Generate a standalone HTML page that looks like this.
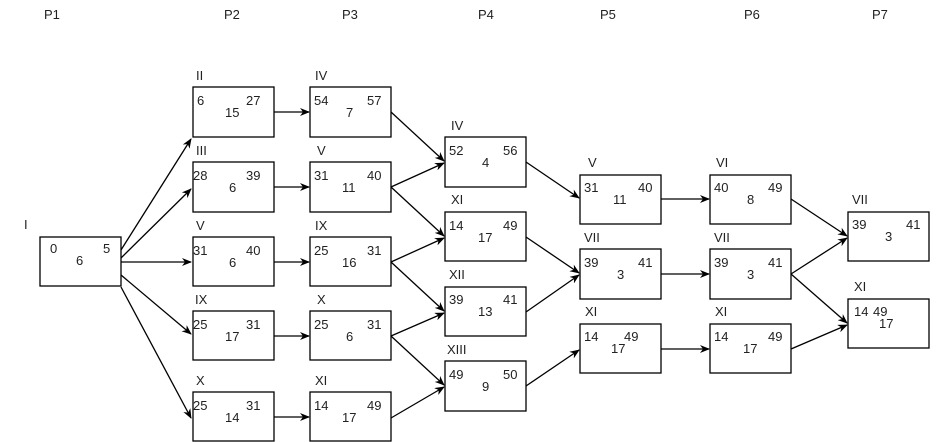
<!DOCTYPE html>
<html><head><meta charset="utf-8"><style>
html,body{margin:0;padding:0;background:#fff;}
svg{display:block;}
text{font-family:"Liberation Sans",sans-serif;font-size:13px;fill:#222;}
</style></head><body>
<svg width="945" height="442" viewBox="0 0 945 442" xmlns="http://www.w3.org/2000/svg">
<defs><marker id="a" markerWidth="10" markerHeight="8" refX="9" refY="4" orient="auto" markerUnits="userSpaceOnUse"><path d="M0,0 L10,4 L0,8 L3,4 z" fill="#000"/></marker></defs>
<g>
<text x="44" y="19">P1</text><text x="224" y="19">P2</text><text x="342" y="19">P3</text><text x="478" y="19">P4</text><text x="600" y="19">P5</text><text x="744" y="19">P6</text><text x="872" y="19">P7</text>
</g>
<g id="boxes"></g>
<g stroke="#000" stroke-width="1.3" fill="none" marker-end="url(#a)">
<line x1="121" y1="250" x2="191" y2="139"/>
<line x1="121" y1="258" x2="191" y2="189"/>
<line x1="121" y1="262" x2="191" y2="262"/>
<line x1="121" y1="275" x2="191" y2="334"/>
<line x1="121" y1="287" x2="191" y2="418"/>
<line x1="274" y1="112" x2="309" y2="112"/>
<line x1="274" y1="187" x2="309" y2="187"/>
<line x1="274" y1="262" x2="309" y2="262"/>
<line x1="274" y1="336" x2="309" y2="336"/>
<line x1="274" y1="417" x2="309" y2="417"/>
<line x1="391" y1="112" x2="444" y2="161"/>
<line x1="391" y1="187" x2="444" y2="163"/>
<line x1="391" y1="187" x2="444" y2="236"/>
<line x1="391" y1="262" x2="444" y2="238"/>
<line x1="391" y1="262" x2="444" y2="311"/>
<line x1="391" y1="336" x2="444" y2="313"/>
<line x1="391" y1="336" x2="444" y2="385"/>
<line x1="391" y1="418" x2="444" y2="387"/>
<line x1="526" y1="162" x2="579" y2="198"/>
<line x1="526" y1="237" x2="579" y2="273"/>
<line x1="526" y1="312" x2="579" y2="275"/>
<line x1="526" y1="386" x2="579" y2="350"/>
<line x1="661" y1="199" x2="709" y2="199"/>
<line x1="661" y1="274" x2="709" y2="274"/>
<line x1="661" y1="349" x2="709" y2="349"/>
<line x1="791" y1="199" x2="847" y2="236"/>
<line x1="791" y1="274" x2="847" y2="238"/>
<line x1="791" y1="274" x2="847" y2="323"/>
<line x1="791" y1="349" x2="847" y2="325"/>
</g>
<g fill="#fff" stroke="#000" stroke-width="1.3">
<rect x="40" y="237" width="81" height="49"/>
<rect x="193" y="87" width="81" height="50"/><rect x="193" y="162" width="81" height="50"/><rect x="193" y="237" width="81" height="49"/><rect x="193" y="311" width="81" height="49"/><rect x="193" y="392" width="81" height="49"/>
<rect x="310" y="87" width="81" height="50"/><rect x="310" y="162" width="81" height="50"/><rect x="310" y="237" width="81" height="49"/><rect x="310" y="311" width="81" height="49"/><rect x="310" y="392" width="81" height="49"/>
<rect x="445" y="137" width="81" height="50"/><rect x="445" y="212" width="81" height="49"/><rect x="445" y="287" width="81" height="49"/><rect x="445" y="361" width="81" height="50"/>
<rect x="580" y="175" width="81" height="49"/><rect x="580" y="249" width="81" height="50"/><rect x="580" y="324" width="81" height="49"/>
<rect x="710" y="175" width="81" height="49"/><rect x="710" y="249" width="81" height="50"/><rect x="710" y="324" width="81" height="49"/>
<rect x="848" y="212" width="81" height="49"/><rect x="848" y="299" width="81" height="49"/>
</g>
<g>
<!-- I -->
<text x="24" y="229">I</text><text x="50" y="253">0</text><text x="103" y="253">5</text><text x="76" y="265">6</text>
<!-- P2 -->
<text x="196" y="80">II</text><text x="197" y="105">6</text><text x="246" y="105">27</text><text x="225" y="117">15</text>
<text x="196" y="155">III</text><text x="193" y="180">28</text><text x="246" y="180">39</text><text x="229" y="192">6</text>
<text x="196" y="230">V</text><text x="193" y="255">31</text><text x="246" y="255">40</text><text x="229" y="267">6</text>
<text x="195" y="304">IX</text><text x="193" y="329">25</text><text x="246" y="329">31</text><text x="225" y="341">17</text>
<text x="196" y="385">X</text><text x="193" y="410">25</text><text x="246" y="410">31</text><text x="225" y="422">14</text>
<!-- P3 -->
<text x="315" y="80">IV</text><text x="314" y="105">54</text><text x="367" y="105">57</text><text x="346" y="117">7</text>
<text x="317" y="155">V</text><text x="314" y="180">31</text><text x="367" y="180">40</text><text x="342" y="192">11</text>
<text x="315" y="230">IX</text><text x="314" y="255">25</text><text x="367" y="255">31</text><text x="342" y="267">16</text>
<text x="317" y="304">X</text><text x="314" y="329">25</text><text x="367" y="329">31</text><text x="346" y="341">6</text>
<text x="315" y="385">XI</text><text x="314" y="410">14</text><text x="367" y="410">49</text><text x="342" y="422">17</text>
<!-- P4 -->
<text x="451" y="130">IV</text><text x="449" y="155">52</text><text x="503" y="155">56</text><text x="482" y="167">4</text>
<text x="451" y="204">XI</text><text x="449" y="230">14</text><text x="503" y="230">49</text><text x="478" y="242">17</text>
<text x="449" y="279">XII</text><text x="449" y="304">39</text><text x="503" y="304">41</text><text x="478" y="316">13</text>
<text x="447" y="354">XIII</text><text x="449" y="379">49</text><text x="503" y="379">50</text><text x="482" y="391">9</text>
<!-- P5 -->
<text x="588" y="167">V</text><text x="584" y="192">31</text><text x="638" y="192">40</text><text x="613" y="204">11</text>
<text x="584" y="242">VII</text><text x="584" y="267">39</text><text x="638" y="267">41</text><text x="617" y="279">3</text>
<text x="585" y="316">XI</text><text x="584" y="341">14</text><text x="624" y="341">49</text><text x="611" y="353">17</text>
<!-- P6 -->
<text x="716" y="167">VI</text><text x="714" y="192">40</text><text x="768" y="192">49</text><text x="747" y="204">8</text>
<text x="714" y="242">VII</text><text x="714" y="267">39</text><text x="768" y="267">41</text><text x="747" y="279">3</text>
<text x="715" y="316">XI</text><text x="714" y="341">14</text><text x="768" y="341">49</text><text x="743" y="353">17</text>
<!-- P7 -->
<text x="852" y="204">VII</text><text x="852" y="229">39</text><text x="906" y="229">41</text><text x="885" y="241">3</text>
<text x="854" y="291">XI</text><text x="854" y="316">14</text><text x="873" y="316">49</text><text x="879" y="328">17</text>
</g>
</svg>
</body></html>
